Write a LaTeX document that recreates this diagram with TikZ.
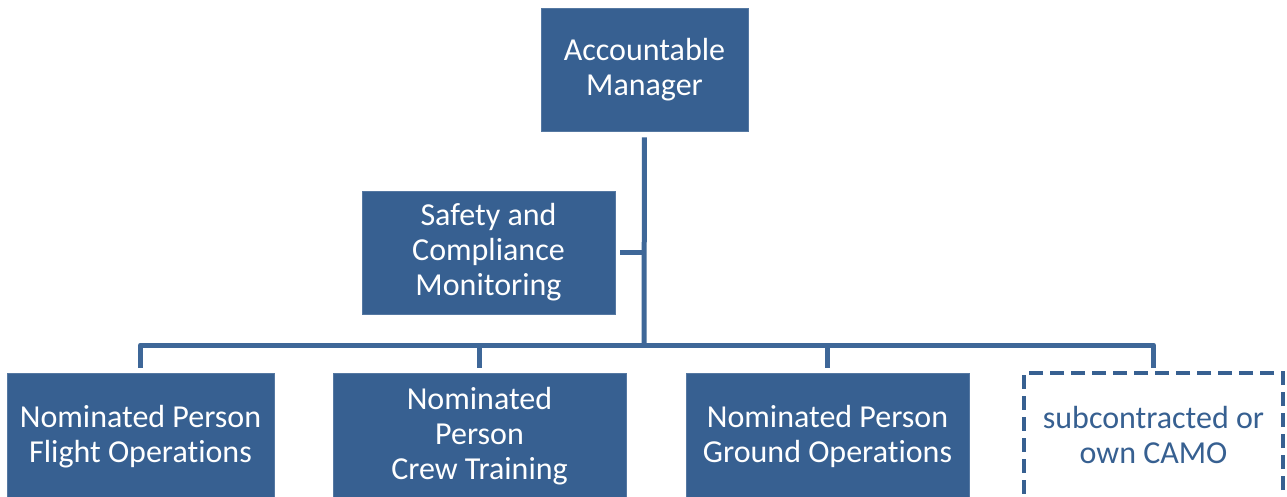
\documentclass[tikz,border=0pt]{standalone}
\usepackage{fontspec}
\setmainfont[Ligatures=NoCommon]{Carlito}
\definecolor{boxblue}{RGB}{55,96,145}
\definecolor{lineblue}{RGB}{62,103,152}
\tikzset{
  orgbox/.style={rectangle, fill=boxblue, draw=boxblue!85!white, line width=0.8pt, text=white, align=center, inner sep=0pt, font=\fontsize{32}{35}\selectfont},
  camobox/.style={rectangle, draw=boxblue, line width=4pt, dash pattern=on 14pt off 7pt, text=boxblue, align=center, inner sep=0pt, font=\fontsize{32}{35}\selectfont},
  conn/.style={draw=lineblue, line width=5pt, line join=round, line cap=butt}
}
\begin{document}
\begin{tikzpicture}[x=1pt,y=-1pt]
\useasboundingbox (0,0) rectangle (1287,497);
\fill[white] (0,0) rectangle (1287,497);
\node[orgbox, minimum width=207pt, minimum height=123pt] (AM) at (644.5,69.5) {Accountable\\Manager};
\node[orgbox, minimum width=253pt, minimum height=123pt] (SC) at (488.5,252.5) {Safety and\\Compliance\\Monitoring};
\node[orgbox, minimum width=267pt, minimum height=127pt] (FO) at (140.5,436.5) {Nominated Person\\Flight Operations};
\node[orgbox, minimum width=293pt, minimum height=127pt] (CT) at (479.5,436.5) {Nominated\\Person\\Crew Training};
\node[orgbox, minimum width=283pt, minimum height=127pt] (GO) at (827.5,436.5) {Nominated Person\\Ground Operations};
\node[camobox, minimum width=259pt, minimum height=131pt, text depth=8pt] (CAMO) at (1153.5,438.5) {subcontracted or\\own CAMO};
\coordinate (bus) at (644,345);
\draw[conn, shorten <=6pt] (AM.south) -- (bus);
\draw[conn, shorten <=5pt] (SC.east) -- (SC.east -| bus);
\draw[conn, shorten >=5pt] (bus) -| (FO.north);
\draw[conn, shorten >=5pt] (bus) -| (CT.north);
\draw[conn, shorten >=5pt] (bus) -| (GO.north);
\draw[conn, shorten >=3pt] (bus) -| (CAMO.north);
\end{tikzpicture}
\end{document}
